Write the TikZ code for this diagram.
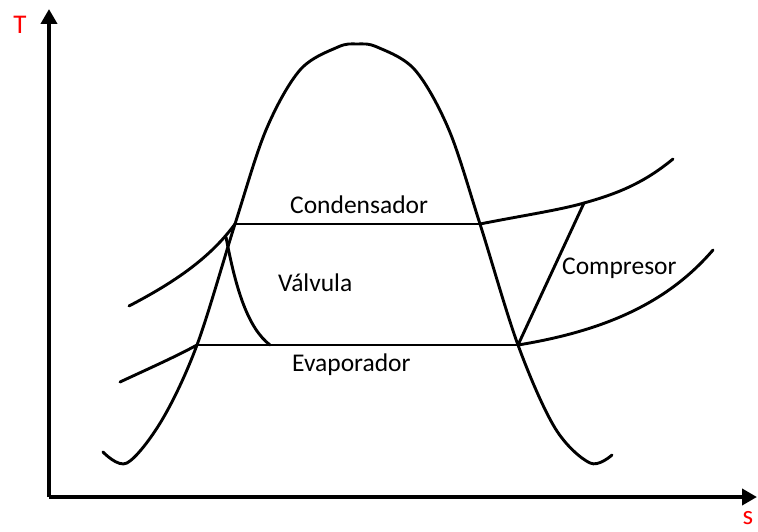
\documentclass[tikz,border=0pt]{standalone}
\usepackage{fontspec}
\setmainfont{Carlito}
\usetikzlibrary{arrows.meta}
\begin{document}
\begin{tikzpicture}[x=1pt,y=-1pt,
  curve/.style={line width=2.9pt, line join=round, line cap=round},
  axis/.style={line width=3.8pt, -{Triangle[length=15pt,width=16pt]}},
  lbl/.style={anchor=base west, inner sep=0pt, font=\fontsize{25.5}{30}\selectfont},
  axlbl/.style={text=red, inner sep=0pt, font=\fontsize{27}{30}\selectfont}]
\useasboundingbox (0,0) rectangle (758,532);
% key points
\coordinate (O) at (49,497);
\coordinate (Ttip) at (49,9);
\coordinate (stip) at (757,497);
\coordinate (c1) at (235,224);
\coordinate (c2) at (480,224);
\coordinate (e1) at (197,345);
\coordinate (e2) at (518,345);
\coordinate (k2) at (584,203);
\coordinate (v1) at (226,237);
\coordinate (v2) at (270,345);
\coordinate (hiL) at (129,306);
\coordinate (hiR) at (673,159);
\coordinate (loL) at (120,382);
\coordinate (loR) at (713,250);
% axes
\draw[axis] (O) -- (Ttip);
\draw[axis] (O) -- (stip);
\node[axlbl] (T) at (20,25) {T};
\node[axlbl] (s) at (748,518) {s};
% dome
\draw[curve] plot[smooth, tension=0.55] coordinates {(103,452) (127,463) (162,420) (197,345) (235,224) (266,130) (300,70) (338,47) (357,44) (377,47) (415,70) (449,130) (480,224) (518,345) (555,428) (590,463) (612,455)};
% isobars
\draw[curve] (hiL) .. controls (175,282) and (210,258) .. (c1);
\draw[curve] (c2) .. controls (520,216) and (560,210) .. (k2) .. controls (620,193) and (645,182) .. (hiR);
\draw[curve] (loL) .. controls (150,368) and (175,357) .. (e1);
\draw[curve] (e2) .. controls (610,330) and (670,300) .. (loR);
% cycle
\draw[curve] (c1) -- (c2);
\draw[curve] (e1) -- (e2);
\draw[curve] (e2) -- (k2);
\draw[curve] (v1) .. controls (236,290) and (248,328) .. (v2);
% labels
\node[lbl] (cond) at (290,214) {Condensador};
\node[lbl] (valv) at (278,291) {Válvula};
\node[lbl] (evap) at (292,371) {Evaporador};
\node[lbl] (comp) at (562,274) {Compresor};
\end{tikzpicture}
\end{document}
